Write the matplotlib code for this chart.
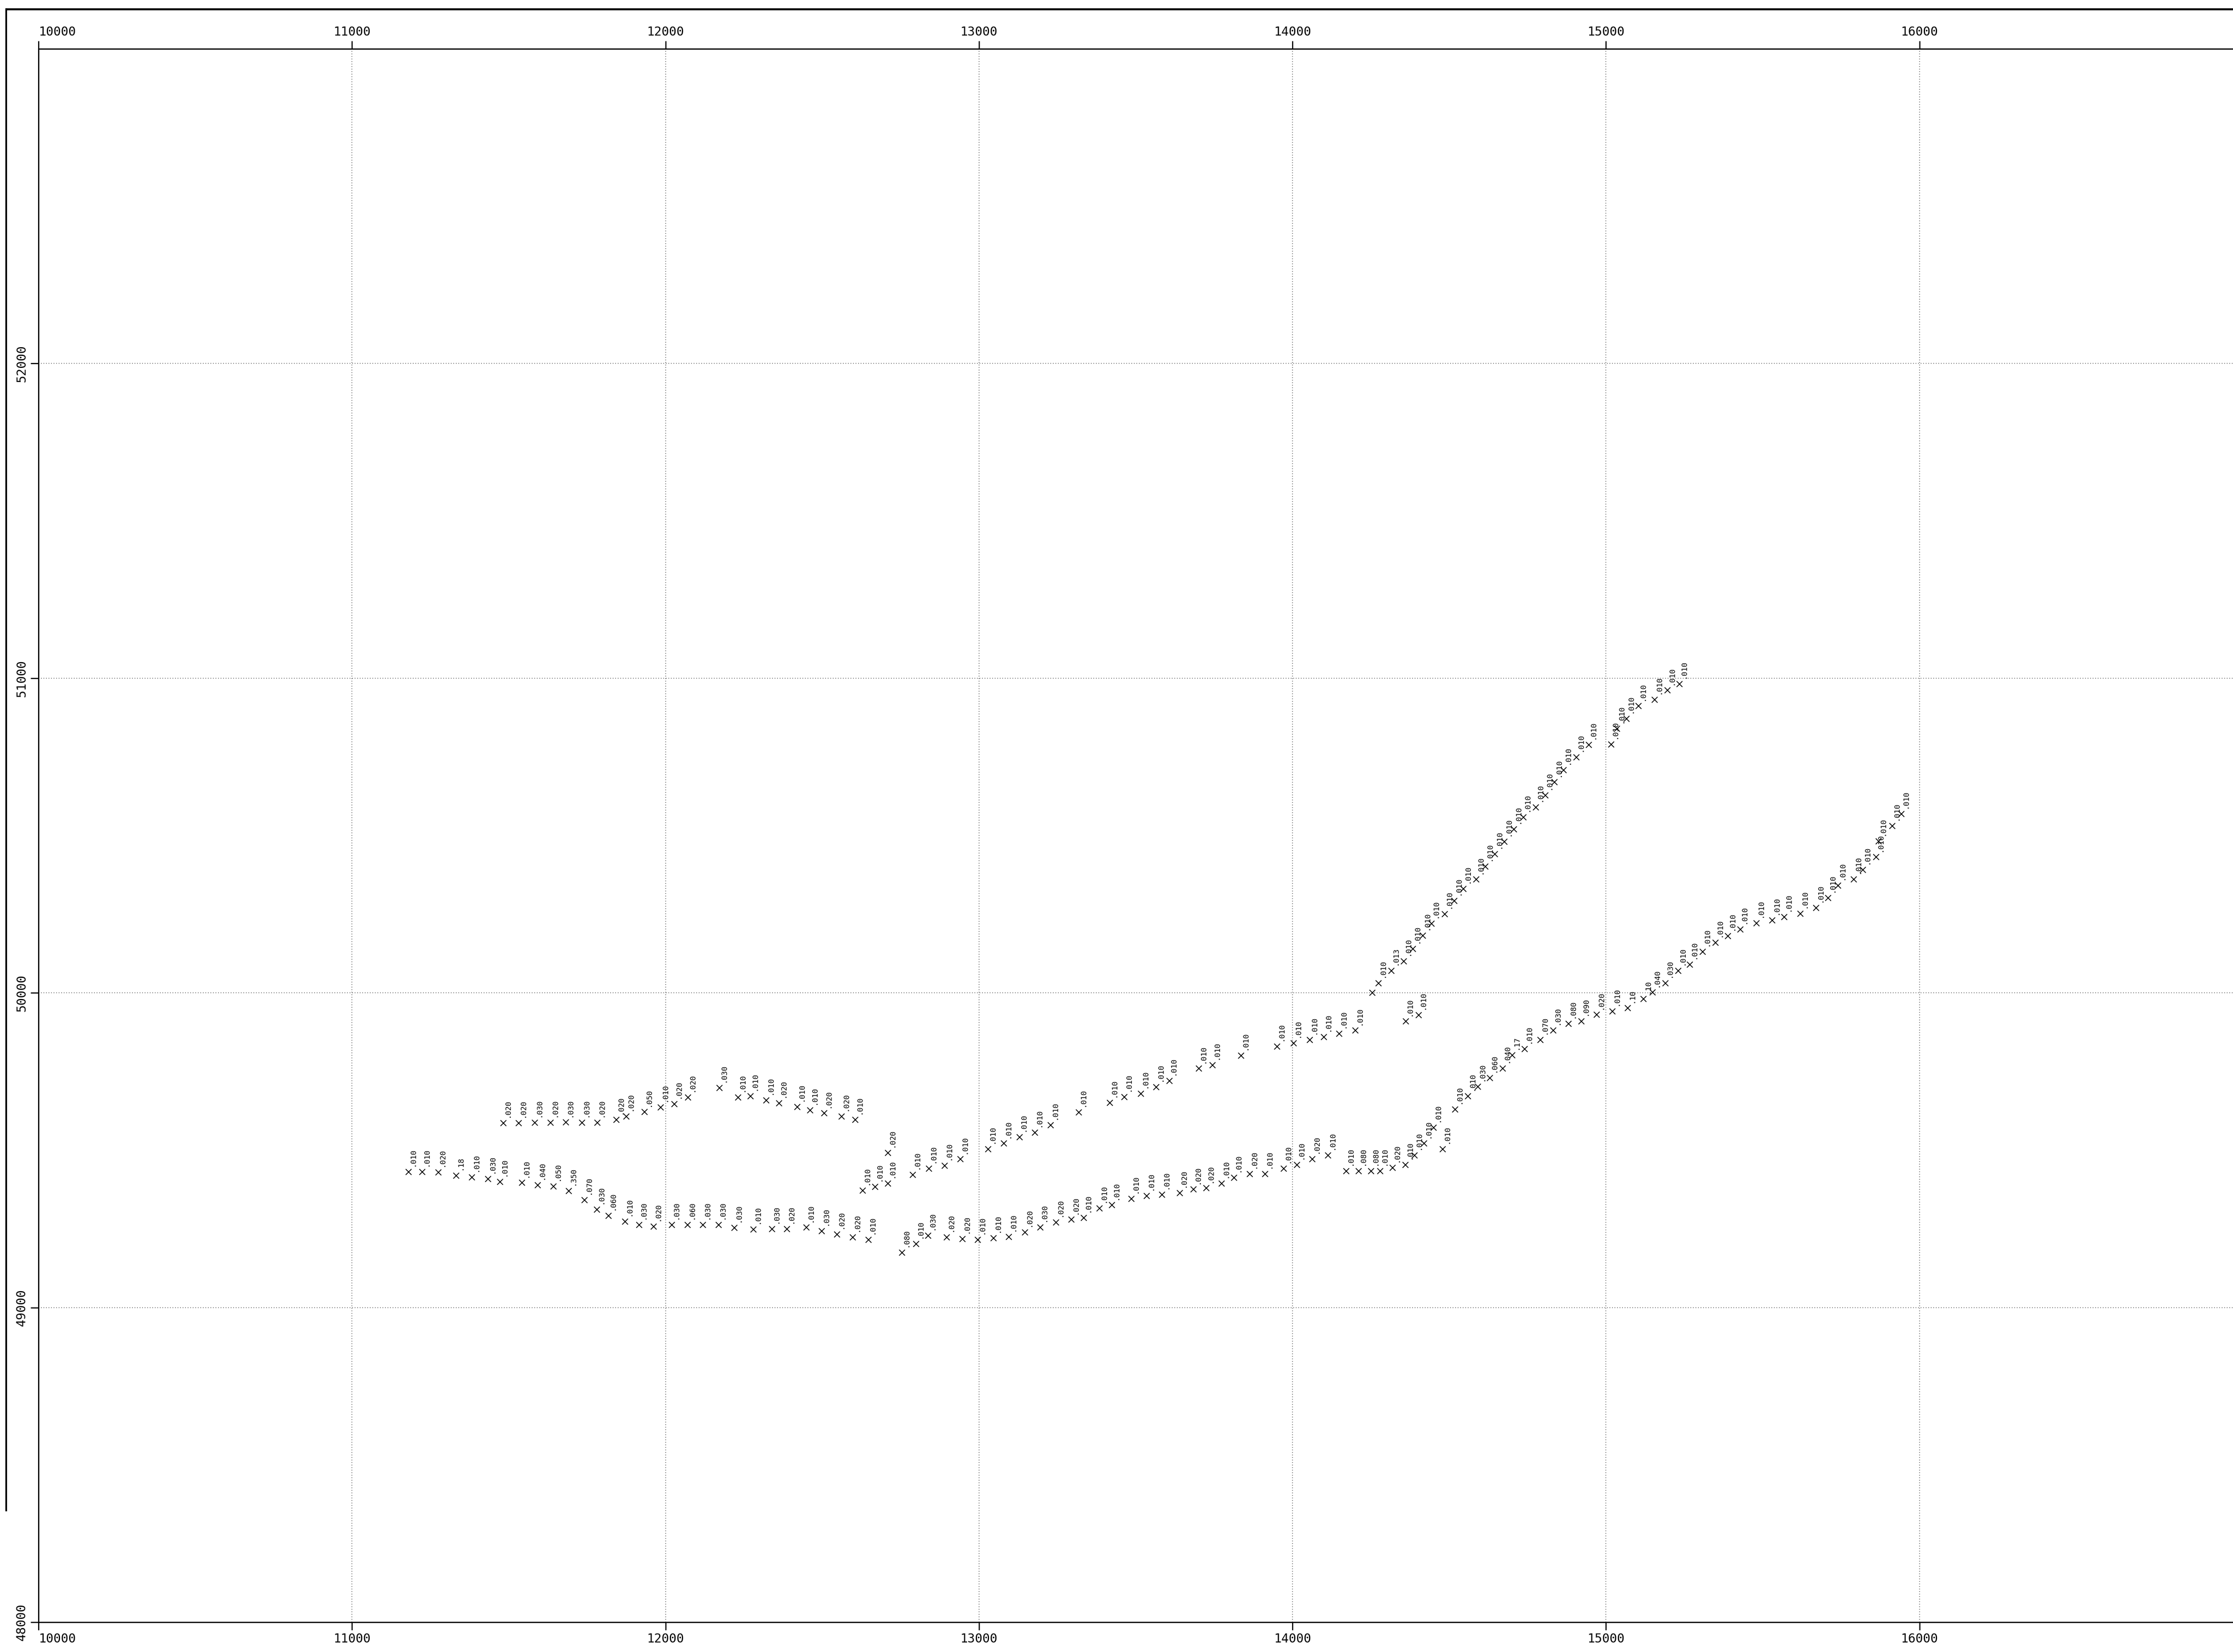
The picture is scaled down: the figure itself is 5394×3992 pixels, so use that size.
import matplotlib
matplotlib.use('Agg')
import matplotlib.pyplot as plt
from matplotlib.lines import Line2D

# lower-left line
ll_x = [11180, 11224, 11275, 11333, 11383, 11434, 11472, 11543, 11592, 11643,
        11691, 11742, 11781, 11818, 11871, 11916, 11962, 12020, 12070, 12120,
        12169, 12220, 12281, 12340, 12387, 12449, 12499, 12547, 12598, 12647]
ll_y = [49431, 49431, 49430, 49419, 49414, 49409, 49399, 49396, 49389, 49385,
        49370, 49341, 49311, 49291, 49273, 49262, 49257, 49262, 49262, 49262,
        49263, 49253, 49248, 49249, 49249, 49254, 49243, 49232, 49223, 49215]
ll_lbl = ['.010', '.010', '.020', '.18', '.010', '.030', '.010', '.010', '.040', '.050',
          '.350', '.070', '.030', '.060', '.010', '.030', '.020', '.030', '.060', '.030',
          '.030', '.030', '.010', '.030', '.020', '.010', '.030', '.020', '.020', '.010']

# upper-left line
ul_x = [11483, 11532, 11583, 11633, 11682, 11734, 11783, 11843, 11875, 11933,
        11985, 12028, 12072, 12172, 12232, 12271, 12322, 12362, 12420, 12461,
        12506, 12562, 12606]
ul_y = [49586, 49586, 49587, 49587, 49588, 49587, 49587, 49597, 49607, 49621,
        49636, 49647, 49668, 49698, 49668, 49672, 49658, 49649, 49637, 49627,
        49617, 49607, 49597]
ul_lbl = ['.020', '.020', '.030', '.020', '.030', '.030', '.020', '.020', '.020', '.050',
          '.010', '.020', '.020', '.030', '.010', '.010', '.010', '.020', '.010', '.010',
          '.020', '.020', '.010']

# middle line, continues into the upper-right branch
mid_x = [12629, 12669, 12710, 12710, 12789, 12841, 12890, 12941, 13029, 13079,
         13129, 13178, 13229, 13318, 13417, 13464, 13517, 13566, 13607, 13701,
         13745, 13836, 13951, 14004, 14055, 14100, 14149, 14200]
mid_y = [49372, 49383, 49394, 49491, 49422, 49442, 49451, 49471, 49503, 49521,
         49541, 49556, 49580, 49620, 49651, 49669, 49680, 49700, 49720, 49759,
         49770, 49801, 49829, 49840, 49850, 49860, 49870, 49880]
mid_lbl = ['.010', '.010', '.010', '.020', '.010', '.010', '.010', '.010', '.010', '.010',
           '.010', '.010', '.010', '.010', '.010', '.010', '.010', '.010', '.010', '.010',
           '.010', '.010', '.010', '.010', '.010', '.010', '.010', '.010']

ur_x = [14255, 14274, 14316, 14355, 14384, 14416, 14444, 14486, 14516, 14545,
        14586, 14615, 14645, 14676, 14706, 14736, 14776, 14806, 14836, 14865,
        14906, 14945, 15016, 15035, 15065, 15104, 15155, 15196, 15235]
ur_y = [50000, 50030, 50070, 50100, 50140, 50182, 50220, 50250, 50292, 50330,
        50360, 50401, 50441, 50480, 50520, 50558, 50589, 50628, 50669, 50708,
        50749, 50788, 50789, 50839, 50871, 50911, 50931, 50961, 50981]
ur_lbl = ['', '.010', '.013', '.010', '.010', '.010', '.010', '.010', '.010', '.010',
          '.010', '.010', '.010', '.010', '.010', '.010', '.010', '.010', '.010', '.010',
          '.010', '.010', '.010', '.010', '.010', '.010', '.010', '.010', '.010']

# two loose points near 14400
pair_x = [14361, 14402]
pair_y = [49909, 49929]
pair_lbl = ['.010', '.010']

# lower line running into the lower-right branch
lm_x = [12754, 12799, 12838, 12897, 12947, 12996, 13046, 13095, 13147, 13195,
        13246, 13295, 13334, 13385, 13424, 13486, 13535, 13584, 13640, 13684,
        13725, 13774, 13814, 13864, 13913, 13972, 14014, 14063, 14114, 14172,
        14211, 14251, 14280, 14320, 14360, 14389, 14420, 14450, 14479, 14519]
lm_y = [49175, 49202, 49228, 49223, 49218, 49215, 49220, 49224, 49239, 49255,
        49270, 49279, 49285, 49315, 49325, 49346, 49355, 49358, 49364, 49375,
        49379, 49394, 49413, 49424, 49424, 49442, 49453, 49472, 49483, 49433,
        49433, 49433, 49433, 49444, 49453, 49483, 49521, 49572, 49503, 49630]
lm_lbl = ['.080', '.010', '.030', '.020', '.020', '.010', '.010', '.010', '.020', '.030',
          '.020', '.020', '.010', '.010', '.010', '.010', '.010', '.010', '.020', '.020',
          '.020', '.010', '.010', '.020', '.010', '.010', '.010', '.020', '.010', '.010',
          '.080', '.080', '.010', '.020', '.010', '.010', '.010', '.010', '.010', '.010']

lr_x = [14560, 14592, 14630, 14671, 14701, 14741, 14791, 14832, 14881, 14921,
        14971, 15020, 15070, 15120, 15149, 15189, 15230, 15268, 15309, 15350,
        15389, 15428, 15480, 15530, 15569, 15620, 15670, 15709, 15740, 15790,
        15819, 15862, 15870, 15913, 15942]
lr_y = [49671, 49702, 49730, 49760, 49802, 49822, 49850, 49881, 49902, 49910,
        49930, 49941, 49951, 49981, 50001, 50030, 50070, 50090, 50131, 50160,
        50180, 50201, 50221, 50230, 50241, 50251, 50270, 50302, 50341, 50361,
        50391, 50431, 50482, 50530, 50569]
lr_lbl = ['.010', '.030', '.060', '.040', '.17', '.010', '.070', '.030', '.080', '.090',
          '.020', '.010', '.10', '.10', '.040', '.030', '.010', '.010', '.010', '.010',
          '.010', '.010', '.010', '.010', '.010', '.010', '.010', '.010', '.010', '.010',
          '.010', '.010', '.010', '.010', '.010']

x_ticks = [10000, 11000, 12000, 13000, 14000, 15000, 16000]
y_ticks = [48000, 49000, 50000, 51000, 52000]

series = [(ll_x, ll_y, ll_lbl), (ul_x, ul_y, ul_lbl), (mid_x, mid_y, mid_lbl),
          (ur_x, ur_y, ur_lbl), (pair_x, pair_y, pair_lbl), (lm_x, lm_y, lm_lbl),
          (lr_x, lr_y, lr_lbl)]

W, H = 5394, 3992
fig = plt.figure(figsize=(W / 100, H / 100), dpi=100)
ax = fig.add_axes([93 / W, 72 / H, 1 - 93 / W, 3802 / H])

mono = 'DejaVu Sans Mono'
for xs, ys, lbls in series:
    ax.plot(xs, ys, ls='none', marker='x', color='black', ms=9.5, mew=1.4)
    for x, y, s in zip(xs, ys, lbls):
        if s:
            ax.annotate(s, (x, y), xytext=(0.5, 10), textcoords='offset points',
                        rotation=90, ha='left', va='bottom', fontsize=13, family=mono)

ax.set_xlim(10000, 17000)
ax.set_ylim(48000, 53000)
ax.set_xticks(x_ticks)
ax.set_yticks(y_ticks)
ax.set_xticklabels([str(v) for v in x_ticks], family=mono, fontsize=21.5)
ax.set_yticklabels([str(v) for v in y_ticks], family=mono, fontsize=21.5,
                   rotation=90, va='center')
ax.tick_params(direction='out', length=14, width=2, pad=5,
               top=True, labeltop=True, right=False)
# first x label sits right of its tick, clear of the 48000 label
first = ax.xaxis.get_major_ticks()[0]
first.label1.set_horizontalalignment('left')
first.label2.set_horizontalalignment('left')

ax.grid(True, color='#222222', linestyle=(0, (1, 3)), linewidth=1.1)
for side in ['left', 'bottom', 'top']:
    ax.spines[side].set_linewidth(2.2)
ax.spines['right'].set_visible(False)

# scanned sheet border
fig.add_artist(Line2D([15 / W, 1], [1 - 22 / H, 1 - 22 / H], transform=fig.transFigure,
                      color='black', lw=3.5))
fig.add_artist(Line2D([15 / W, 15 / W], [1 - 22 / H, 1 - 3650 / H], transform=fig.transFigure,
                      color='black', lw=3))

fig.savefig('out.png', dpi=100, facecolor='white')
